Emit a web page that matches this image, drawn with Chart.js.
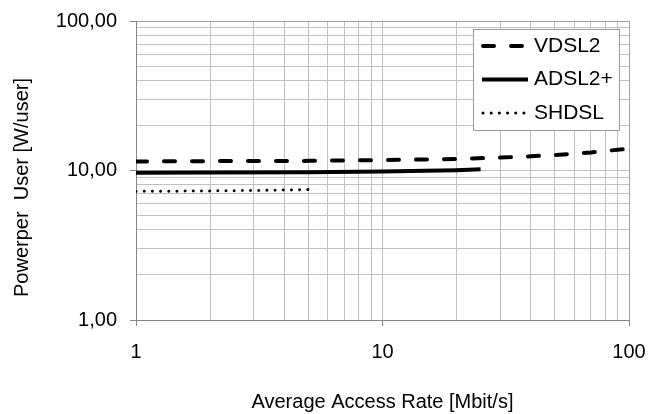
<!DOCTYPE html>
<html>
<head>
<meta charset="utf-8">
<script src="https://cdn.jsdelivr.net/npm/chart.js@4/dist/chart.umd.min.js"></script>
<style>
  html, body { margin: 0; padding: 0; background: #ffffff; }
  #wrap { position: relative; width: 649px; height: 414px; }
</style>
</head>
<body>
<div id="wrap"><canvas id="chart"></canvas></div>
<script>
// Series: power per user versus average access rate
const seriesNames = ['VDSL2', 'ADSL2+', 'SHDSL'];

const vdsl2Rate  = [1, 2, 5, 10, 15, 20, 30, 40, 50, 70, 100];
const vdsl2Power = [11.5, 11.55, 11.6, 11.75, 11.85, 11.95, 12.2, 12.45, 12.7, 13.2, 14.0];

const adsl2Rate  = [1, 2, 5, 10, 15, 20, 25];
const adsl2Power = [9.65, 9.7, 9.75, 9.85, 9.95, 10.05, 10.2];

const shdslRate  = [1, 2, 3, 4, 5];
const shdslPower = [7.25, 7.3, 7.35, 7.4, 7.45];

// Log-scale grid positions and labelled decades
const gridValues  = [1, 2, 3, 4, 5, 6, 7, 8, 9, 10, 20, 30, 40, 50, 60, 70, 80, 90, 100];
const majorValues = [1, 10, 100];
const xTickLabels = ['1', '10', '100'];
const yTickLabels = ['1,00', '10,00', '100,00'];

const xTitle = 'Average Access Rate [Mbit/s]';
const yTitle = 'Powerper  User [W/user]';

const FONT_FAMILY = "'Liberation Sans', Arial, sans-serif";
const GRID = '#c0c0c0';
const AXIS = '#868686';

const toPoints = (xs, ys) => xs.map((x, i) => ({ x: x, y: ys[i] }));

const datasets = [
  {
    label: seriesNames[0],
    data: toPoints(vdsl2Rate, vdsl2Power),
    borderColor: '#000000',
    borderWidth: 4,
    borderDash: [11, 17],
    borderCapStyle: 'round'
  },
  {
    label: seriesNames[1],
    data: toPoints(adsl2Rate, adsl2Power),
    borderColor: '#000000',
    borderWidth: 4,
    borderDash: [],
    borderCapStyle: 'butt'
  },
  {
    label: seriesNames[2],
    data: toPoints(shdslRate, shdslPower),
    borderColor: '#000000',
    borderWidth: 3,
    borderDash: [0.01, 8.17],
    borderCapStyle: 'round'
  }
].map(d => Object.assign(d, { fill: false, tension: 0, pointRadius: 0, pointHoverRadius: 0 }));

function setGridTicks(scale) {
  scale.ticks = gridValues.map(v => ({ value: v, major: majorValues.includes(v) }));
}

function gridColor(ctx) {
  return ctx.tick && ctx.tick.value === 100 ? '#a2a2a2' : GRID;
}
function tickMarkColor(ctx) {
  return ctx.tick && majorValues.includes(ctx.tick.value) ? AXIS : 'rgba(0,0,0,0)';
}

// Fixed axis footprint; the outer padding is handled by layout.padding
function fitX(s) {
  s.height = 94;
  s.paddingLeft = 0;
  s.paddingRight = 0;
}
function fitY(s) {
  s.width = 136;
  s.paddingTop = 0;
  s.paddingBottom = 0;
}

// Axis titles and the boxed legend inside the plot area
const decorations = {
  id: 'decorations',
  afterDraw(chart) {
    const ctx = chart.ctx;
    const a = chart.chartArea;
    ctx.save();
    ctx.fillStyle = '#000000';
    ctx.font = '20px ' + FONT_FAMILY;
    ctx.textAlign = 'center';
    ctx.textBaseline = 'middle';
    ctx.fillText(xTitle, (a.left + a.right) / 2, a.bottom + 82);

    ctx.save();
    ctx.translate(22.5, (a.top + a.bottom) / 2 + 17);
    ctx.rotate(-Math.PI / 2);
    ctx.fillText(yTitle, 0, 0);
    ctx.restore();

    // legend box
    const bx = a.right - 156, by = a.top + 8, bw = 146, bh = 101;
    ctx.fillStyle = '#ffffff';
    ctx.fillRect(bx, by, bw, bh);
    ctx.strokeStyle = '#9a9a9a';
    ctx.lineWidth = 1;
    ctx.strokeRect(bx + 0.5, by + 0.5, bw, bh);

    const rows = [by + 17, by + 50.5, by + 84];
    chart.data.datasets.forEach((ds, i) => {
      const y = rows[i];
      ctx.save();
      ctx.strokeStyle = ds.borderColor;
      ctx.lineWidth = ds.borderWidth;
      ctx.lineCap = ds.borderCapStyle;
      ctx.setLineDash(ds.borderDash);
      ctx.beginPath();
      if (ds.borderCapStyle === 'round') {
        ctx.moveTo(bx + 10, y);
        ctx.lineTo(bx + 52, y);
      } else {
        ctx.moveTo(bx + 9, y);
        ctx.lineTo(bx + 55, y);
      }
      ctx.stroke();
      ctx.restore();
      ctx.fillStyle = '#000000';
      ctx.textAlign = 'left';
      ctx.textBaseline = 'middle';
      ctx.font = '21px ' + FONT_FAMILY;
      ctx.fillText(ds.label, bx + 61, y);
    });
    ctx.restore();
  }
};

new Chart(document.getElementById('chart'), {
  type: 'line',
  data: { datasets: datasets },
  plugins: [decorations],
  options: {
    responsive: true,
    maintainAspectRatio: false,
    animation: false,
    devicePixelRatio: 1,
    layout: { padding: { top: 21, right: 20, left: 0, bottom: 0 } },
    plugins: { legend: { display: false }, tooltip: { enabled: false } },
    scales: {
      x: {
        type: 'logarithmic',
        min: 1,
        max: 100,
        afterBuildTicks: setGridTicks,
        afterFit: fitX,
        ticks: {
          autoSkip: false,
          maxRotation: 0,
          padding: 14,
          color: '#000000',
          font: { family: FONT_FAMILY, size: 20 },
          callback: v => { const i = majorValues.indexOf(v); return i >= 0 ? xTickLabels[i] : ''; }
        },
        grid: { color: gridColor, tickColor: tickMarkColor, tickLength: 6, lineWidth: 1 },
        border: { color: AXIS, width: 1 }
      },
      y: {
        type: 'logarithmic',
        min: 1,
        max: 100,
        afterBuildTicks: setGridTicks,
        afterFit: fitY,
        ticks: {
          autoSkip: false,
          padding: 13,
          color: '#000000',
          font: { family: FONT_FAMILY, size: 20 },
          callback: v => { const i = majorValues.indexOf(v); return i >= 0 ? yTickLabels[i] : ''; }
        },
        grid: { color: gridColor, tickColor: tickMarkColor, tickLength: 6, lineWidth: 1 },
        border: { color: AXIS, width: 1 }
      }
    }
  }
});
</script>
</body>
</html>
